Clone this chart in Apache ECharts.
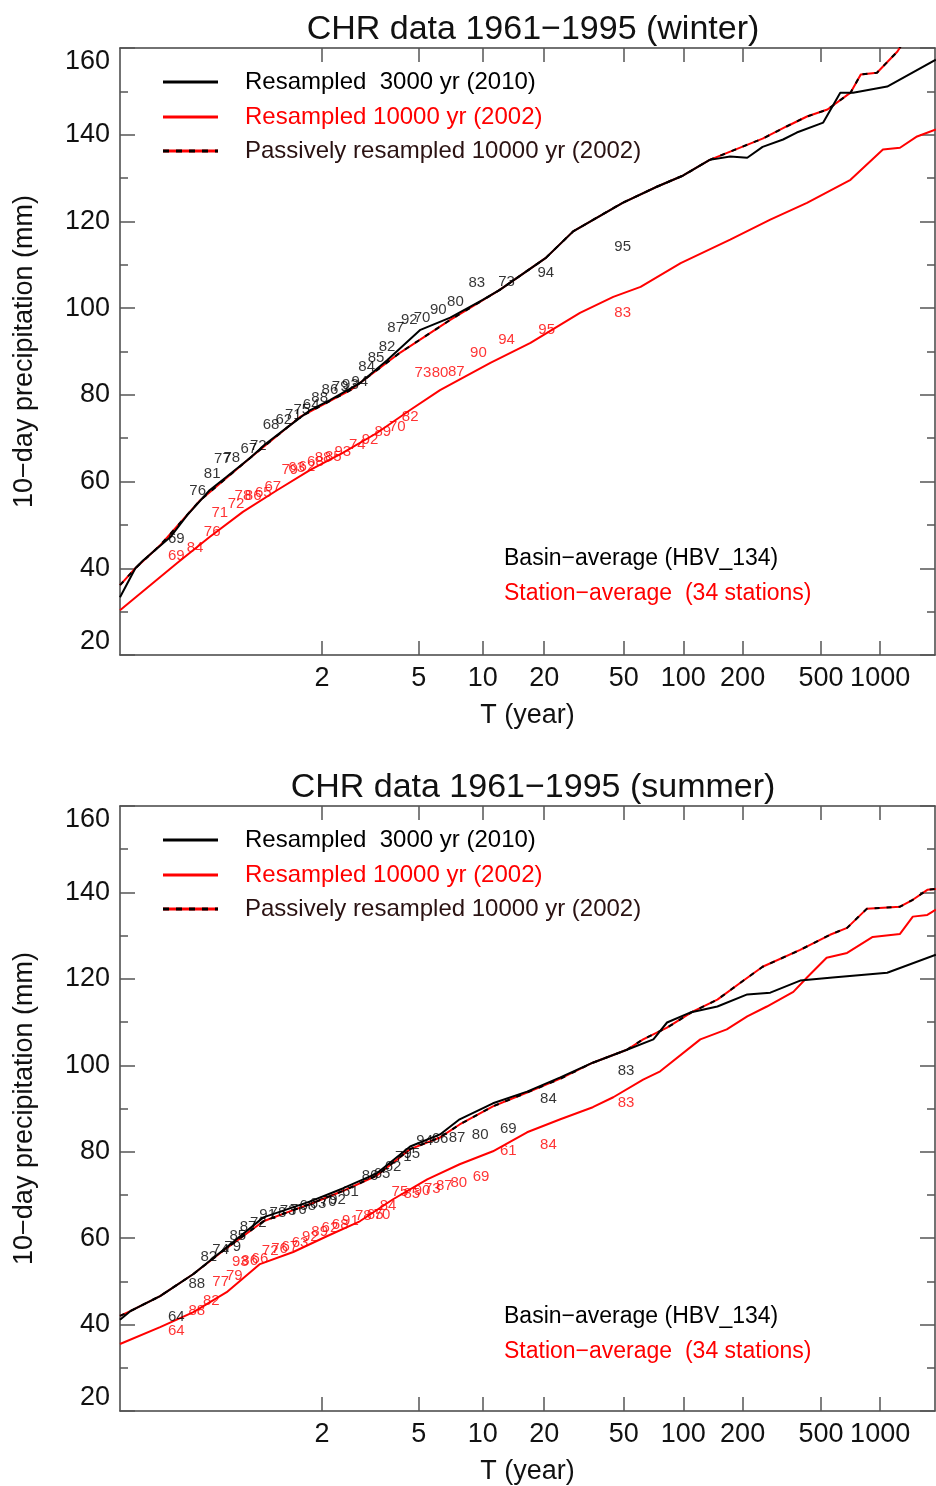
<!DOCTYPE html>
<html>
<head>
<meta charset="utf-8">
<script src="https://cdn.jsdelivr.net/npm/echarts@6/dist/echarts.min.js"></script>
<style>html,body{margin:0;padding:0;background:#fff}#c{width:936px;height:1486px}</style>
</head>
<body>
<div id="c"></div>
<script>
// ---- Data (x = Gumbel reduced variate, y = 10-day precipitation in mm) ----
const tickT = [2, 5, 10, 20, 50, 100, 200, 500, 1000];
const titles = ['CHR data 1961\u22121995 (winter)', 'CHR data 1961\u22121995 (summer)'];
const legendLabels = ['Resampled  3000 yr (2010)', 'Resampled 10000 yr (2002)', 'Passively resampled 10000 yr (2002)'];
const noteLabels = ['Basin\u2212average (HBV_134)', 'Station\u2212average  (34 stations)'];
const xName = 'T (year)';
const yName = '10\u2212day precipitation (mm)';

// Winter curves
const winterBasin3000 = [[-2.00,33.3],[-1.82,40.0],[-1.73,41.8],[-1.41,47.2],[-1.21,52.3],[-0.95,58.0],[-0.75,61.1],[-0.48,65.4],[-0.28,68.9],[-0.04,72.5],[0.23,76.5],[0.46,78.8],[0.81,82.7],[1.13,88.0],[1.52,95.0],[1.87,97.8],[2.25,101.9],[2.45,104.2],[2.99,111.6],[3.31,117.7],[3.89,124.3],[4.29,128.0],[4.60,130.6],[4.91,134.2],[5.15,135.0],[5.35,134.7],[5.53,137.2],[5.77,138.9],[5.93,140.5],[6.24,142.8],[6.44,149.7],[6.59,149.7],[6.99,151.1],[7.56,157.3]];
const winterPassive = [[-2.00,36.1],[-1.82,40.0],[-1.53,45.3],[-1.06,55.7],[-0.48,65.4],[0.11,74.9],[0.70,81.1],[1.28,89.7],[1.87,97.3],[2.45,104.2],[2.99,111.6],[3.31,117.7],[3.89,124.3],[4.29,128.0],[4.60,130.6],[4.91,134.2],[5.15,136.1],[5.53,139.1],[5.81,141.9],[6.05,144.2],[6.29,145.8],[6.56,149.7],[6.68,153.9],[6.87,154.3],[7.11,159.2],[7.20,162.0]];
const winterStation = [[-2.00,30.3],[-1.33,41.2],[-0.95,47.2],[-0.56,53.0],[-0.16,58.0],[0.23,62.7],[0.61,66.6],[1.01,71.2],[1.40,76.5],[1.75,81.1],[2.34,87.4],[2.81,92.0],[3.39,98.9],[3.78,102.6],[4.10,104.9],[4.57,110.4],[5.15,115.8],[5.62,120.4],[6.05,124.3],[6.56,129.6],[6.94,136.6],[7.14,137.0],[7.34,139.6],[7.56,141.2]];

// Summer curves
const summerBasin3000 = [[-2.00,41.1],[-1.88,43.1],[-1.53,46.6],[-1.14,51.7],[-0.75,57.9],[-0.32,64.8],[-0.01,66.9],[0.23,68.5],[0.61,71.5],[1.01,75.0],[1.40,81.2],[1.75,84.0],[1.98,87.5],[2.37,91.2],[2.77,93.9],[3.16,97.2],[3.54,100.6],[3.94,103.6],[4.25,106.0],[4.41,109.9],[4.68,112.2],[5.00,113.6],[5.35,116.4],[5.62,116.8],[5.97,119.6],[6.35,120.3],[6.99,121.4],[7.56,125.6]];
const summerPassive = [[-2.00,42.0],[-1.88,43.1],[-1.53,46.6],[-1.14,51.7],[-0.75,57.7],[-0.32,63.9],[-0.01,66.2],[0.23,67.9],[0.61,70.9],[1.01,74.5],[1.40,80.6],[1.75,83.3],[1.98,86.3],[2.37,90.5],[2.77,93.7],[3.16,96.9],[3.54,100.6],[3.94,103.6],[4.13,106.0],[4.41,108.7],[4.71,112.4],[5.00,115.2],[5.27,119.1],[5.53,122.8],[5.97,126.7],[6.32,130.2],[6.52,131.8],[6.75,136.2],[7.14,136.7],[7.29,138.3],[7.46,140.6],[7.56,140.8]];
const summerStation = [[-2.00,35.5],[-1.53,39.4],[-1.14,42.9],[-0.75,47.5],[-0.36,54.0],[0.03,56.8],[0.43,60.5],[0.81,63.9],[1.20,69.0],[1.60,73.6],[1.98,77.1],[2.37,80.1],[2.77,84.5],[3.16,87.5],[3.54,90.3],[3.78,92.6],[4.13,96.7],[4.33,98.6],[4.80,106.0],[5.11,108.3],[5.35,111.3],[5.58,113.6],[5.89,117.0],[6.05,120.3],[6.28,124.9],[6.52,126.0],[6.82,129.7],[7.14,130.4],[7.29,134.4],[7.46,134.8],[7.56,136.0]];

// Observed annual maxima, labelled by year: [u, value, year]
const winterBasinObs = [[-1.34,46.7,'69'],[-1.09,57.8,'76'],[-0.92,61.7,'81'],[-0.80,65.2,'77'],[-0.69,65.4,'78'],[-0.49,67.5,'67'],[-0.38,68.2,'72'],[-0.23,73.0,'68'],[-0.08,74.2,'62'],[0.03,75.4,'71'],[0.13,76.5,'75'],[0.24,77.7,'64'],[0.34,79.3,'88'],[0.46,81.1,'86'],[0.58,81.8,'79'],[0.70,82.3,'93'],[0.81,83.0,'94'],[0.89,86.4,'84'],[1.00,88.5,'85'],[1.13,91.1,'82'],[1.23,95.5,'87'],[1.39,97.3,'92'],[1.54,97.8,'70'],[1.73,99.6,'90'],[1.93,101.5,'80'],[2.18,105.8,'83'],[2.53,106.1,'73'],[2.99,108.2,'94'],[3.89,114.2,'95']];
const winterStationObs = [[-1.34,42.8,'69'],[-1.12,44.6,'84'],[-0.92,48.3,'76'],[-0.83,52.7,'71'],[-0.64,54.8,'72'],[-0.56,56.7,'78'],[-0.44,56.7,'86'],[-0.32,57.3,'65'],[-0.21,58.7,'67'],[-0.01,62.7,'79'],[0.07,63.1,'63'],[0.19,63.3,'62'],[0.29,64.5,'68'],[0.38,65.4,'88'],[0.50,65.7,'85'],[0.61,66.8,'93'],[0.78,68.4,'74'],[0.93,69.6,'92'],[1.08,71.4,'89'],[1.25,72.6,'70'],[1.40,74.9,'82'],[1.55,85.1,'73'],[1.75,85.1,'80'],[1.94,85.3,'87'],[2.20,89.7,'90'],[2.53,92.7,'94'],[3.00,95.0,'95'],[3.89,98.9,'83']];
const summerBasinObs = [[-1.34,41.8,'64'],[-1.10,49.4,'88'],[-0.96,55.6,'82'],[-0.82,57.2,'74'],[-0.68,57.9,'79'],[-0.62,60.5,'85'],[-0.50,62.5,'87'],[-0.38,63.5,'72'],[-0.27,65.5,'91'],[-0.15,65.8,'78'],[-0.03,66.2,'73'],[0.09,66.5,'76'],[0.20,67.4,'68'],[0.32,67.9,'63'],[0.44,68.3,'70'],[0.55,68.8,'92'],[0.70,70.6,'61'],[0.93,74.3,'86'],[1.07,74.8,'65'],[1.20,76.6,'62'],[1.32,78.7,'71'],[1.42,79.4,'95'],[1.57,82.6,'94'],[1.75,82.9,'66'],[1.95,83.3,'87'],[2.22,83.8,'80'],[2.55,85.4,'69'],[3.02,92.3,'84'],[3.93,98.8,'83']];
const summerStationObs = [[-1.34,38.5,'64'],[-1.10,43.1,'88'],[-0.93,45.5,'82'],[-0.82,49.8,'77'],[-0.66,51.2,'79'],[-0.59,54.5,'93'],[-0.48,54.7,'86'],[-0.36,55.2,'66'],[-0.24,57.0,'72'],[-0.13,57.5,'76'],[-0.01,57.9,'67'],[0.11,58.8,'63'],[0.23,60.2,'92'],[0.34,61.4,'89'],[0.46,62.3,'62'],[0.58,63.0,'68'],[0.70,63.9,'91'],[0.85,65.1,'78'],[0.99,65.3,'65'],[1.07,65.5,'70'],[1.14,67.4,'84'],[1.28,70.6,'75'],[1.42,70.2,'85'],[1.54,70.9,'90'],[1.66,71.3,'73'],[1.80,72.0,'87'],[1.97,72.9,'80'],[2.23,74.1,'69'],[2.55,80.3,'61'],[3.02,81.5,'84'],[3.93,91.4,'83']];

// ---- Helpers ----
const FONT = '"Liberation Sans Narrow", "Liberation Sans", Arial, sans-serif';
const gumbel = T => -Math.log(-Math.log(1 - 1 / T));
const tickU = tickT.map(gumbel);
const tFmt = v => { let best = tickT[0], d = 1e9; tickT.forEach(T => { const e = Math.abs(gumbel(T) - v); if (e < d) { d = e; best = T; } }); return String(best); };

const GRID_TOP = [48, 806];
const GRID_H = 607;
const AXIS_COL = '#444';

function xAx(gridIndex, position, labels) {
  return {
    type: 'value', gridIndex, position, min: -2, max: 7.55,
    axisLine: { show: true, onZero: false, lineStyle: { color: AXIS_COL, width: 1.5 } },
    axisTick: { show: true, inside: true, length: 14, customValues: tickU, lineStyle: { color: '#555', width: 1.5 } },
    axisLabel: { show: labels, customValues: tickU, formatter: tFmt, fontSize: 27, color: '#111', fontFamily: FONT, margin: 10, hideOverlap: false },
    splitLine: { show: false },
    name: labels ? xName : '', nameLocation: 'middle', nameGap: 47,
    nameTextStyle: { fontSize: 27, color: '#111', fontFamily: FONT }
  };
}
function yAx(gridIndex, position, labels) {
  return {
    type: 'value', gridIndex, position, min: 20, max: 160, interval: 20,
    axisLine: { show: true, onZero: false, lineStyle: { color: AXIS_COL, width: 1.5 } },
    axisTick: { show: true, inside: true, length: 15, lineStyle: { color: '#555', width: 1.5 } },
    minorTick: { show: true, splitNumber: 2, length: 8, lineStyle: { color: '#555', width: 1.5 } },
    splitLine: { show: false },
    axisLabel: { show: labels, fontSize: 27, color: '#111', fontFamily: FONT, margin: 10,
      verticalAlignMaxLabel: 'top', verticalAlignMinLabel: 'bottom' },
    name: labels ? yName : '', nameLocation: 'middle', nameGap: 82, nameRotate: 90,
    nameTextStyle: { fontSize: 27, color: '#111', fontFamily: FONT }
  };
}
function lineS(data, xi, yi, color, type, z) {
  return { type: 'line', data, xAxisIndex: xi, yAxisIndex: yi, showSymbol: false, symbol: 'none',
    lineStyle: { color, width: 2, type }, z: z || 2, clip: true, silent: true };
}
function obsS(rows, xi, yi, color) {
  return { type: 'scatter', xAxisIndex: xi, yAxisIndex: yi, symbol: 'circle', symbolSize: 1,
    itemStyle: { color: 'rgba(0,0,0,0)' }, z: 5, silent: true,
    data: rows.map(r => ({ value: [r[0], r[1]], name: r[2] })),
    label: { show: true, position: 'inside', formatter: '{b}', fontSize: 15, color, fontFamily: FONT } };
}

const series = [];
const panels = [
  [winterBasin3000, winterPassive, winterStation, winterBasinObs, winterStationObs],
  [summerBasin3000, summerPassive, summerStation, summerBasinObs, summerStationObs]
];
panels.forEach((p, i) => {
  const xi = i * 2, yi = i * 2;
  series.push(lineS(p[2], xi, yi, '#ff0000', 'solid', 2));
  series.push(lineS(p[1], xi, yi, '#ff0000', 'solid', 3));
  series.push(lineS(p[1], xi, yi, '#000000', [5, 7], 4));
  series.push(lineS(p[0], xi, yi, '#000000', 'solid', 3));
  series.push(obsS(p[3], xi, yi, '#000000'));
  series.push(obsS(p[4], xi, yi, '#ff0000'));
});

const graphic = [];
GRID_TOP.forEach((top, i) => {
  const off = top - GRID_TOP[0];
  const rows = [82, 117, 151].map(y => y + off);
  const cols = ['#000000', '#ff0000', '#ff0000'];
  const tcols = ['#000000', '#ff0000', '#2a1212'];
  rows.forEach((y, k) => {
    graphic.push({ type: 'line', shape: { x1: 163, y1: y, x2: 218, y2: y }, style: { stroke: cols[k], lineWidth: 3 }, z: 10 });
    if (k === 2) graphic.push({ type: 'line', shape: { x1: 163, y1: y, x2: 218, y2: y }, style: { stroke: '#000', lineWidth: 3, lineDash: [6, 7] }, z: 11 });
    graphic.push({ type: 'text', x: 245, y, style: { text: legendLabels[k], fill: tcols[k], font: '24px ' + FONT, textVerticalAlign: 'middle' }, z: 10 });
  });
  graphic.push({ type: 'text', x: 504, y: 559 + off, style: { text: noteLabels[0], fill: '#000', font: '23px ' + FONT, textVerticalAlign: 'middle' }, z: 10 });
  graphic.push({ type: 'text', x: 504, y: 594 + off, style: { text: noteLabels[1], fill: '#ff0000', font: '23px ' + FONT, textVerticalAlign: 'middle' }, z: 10 });
});

const option = {
  animation: false,
  backgroundColor: '#fff',
  title: titles.map((t, i) => ({ text: t, left: 528, top: [8, 766][i], textAlign: 'center',
    textStyle: { fontSize: 34, fontWeight: 'normal', color: '#111', fontFamily: FONT } })),
  grid: GRID_TOP.map(top => ({ left: 120, top, width: 815, height: GRID_H, containLabel: false })),
  xAxis: [xAx(0, 'bottom', true), xAx(0, 'top', false), xAx(1, 'bottom', true), xAx(1, 'top', false)],
  yAxis: [yAx(0, 'left', true), yAx(0, 'right', false), yAx(1, 'left', true), yAx(1, 'right', false)],
  series,
  graphic
};
const chart = echarts.init(document.getElementById('c'), null, { renderer: 'canvas' });
chart.setOption(option);
</script>
</body>
</html>
